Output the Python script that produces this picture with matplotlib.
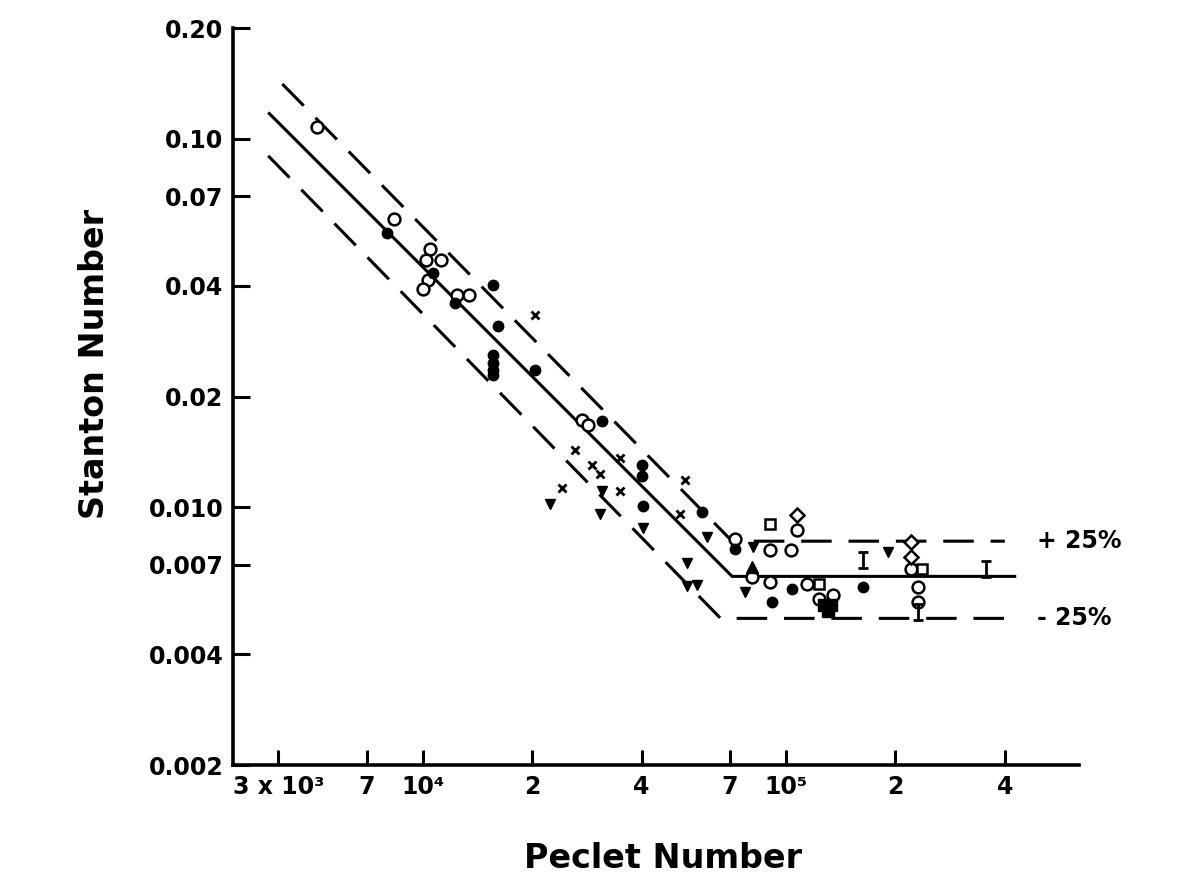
import numpy as np
import matplotlib
matplotlib.use("Agg")
import matplotlib.pyplot as plt
from matplotlib.path import Path

plt.rcParams['font.family'] = ['DejaVu Sans']
plt.rcParams['font.weight'] = 'bold'

# correlation lines (Peclet, Stanton)
solid_pe = [3.75e3, 7.1e4, 4.3e5]
solid_st = [0.118, 0.0065, 0.0065]
upper_pe = [4.1e3, 7.1e4, 4.0e5]
upper_st = [0.141, 0.0081, 0.0081]
lower_pe = [3.75e3, 6.6e4, 4.35e5]
lower_st = [0.090, 0.0050, 0.0050]

# data
open_circ_pe = [5.1e3, 8.3e3, 1.045e4, 1.02e4, 1.12e4, 1.03e4, 1.0e4, 1.24e4, 1.34e4,
                2.74e4, 2.85e4, 7.24e4, 8.05e4, 9.04e4, 9.04e4, 1.07e5, 1.03e5,
                1.14e5, 1.23e5, 1.35e5, 2.2e5, 2.31e5, 2.31e5]
open_circ_st = [0.108, 0.0608, 0.0504, 0.0468, 0.0468, 0.0413, 0.0391, 0.0376, 0.0376,
                0.0173, 0.0167, 0.0082, 0.00647, 0.00765, 0.00627, 0.00867, 0.00765,
                0.00619, 0.00564, 0.00578, 0.0068, 0.00608, 0.00554]

fill_circ_pe = [7.96e3, 1.065e4, 1.225e4, 1.56e4, 1.61e4, 1.56e4, 1.56e4, 1.56e4, 1.56e4,
                2.035e4, 3.11e4, 4.01e4, 4.01e4, 4.04e4, 5.87e4, 7.24e4, 9.15e4,
                1.04e5, 1.63e5]
fill_circ_st = [0.0554, 0.0432, 0.0358, 0.0401, 0.0310, 0.0259, 0.0247, 0.0236, 0.0229,
                0.0236, 0.0172, 0.0130, 0.0122, 0.0101, 0.0097, 0.0077, 0.00554,
                0.0060, 0.0061]

tri_down_pe = [2.24e4, 3.07e4, 3.11e4, 4.04e4, 5.34e4, 5.34e4, 5.69e4, 6.06e4, 8.11e4,
               1.91e5, 7.71e4]
tri_down_st = [0.0102, 0.00957, 0.0111, 0.00877, 0.00706, 0.00612, 0.00616, 0.0083, 0.0078,
               0.00756, 0.00589]

cross_pe = [2.035e4, 2.62e4, 2.92e4, 3.07e4, 2.415e4, 3.49e4, 3.49e4, 5.27e4, 5.1e4]
cross_st = [0.0332, 0.01435, 0.01307, 0.01236, 0.01132, 0.0111, 0.01365, 0.0119, 0.00957]

square_pe = [9.04e4, 1.23e5, 2.37e5]
square_st = [0.0090, 0.00619, 0.0068]

fill_square_pe = [1.27e5, 1.33e5, 1.3e5]
fill_square_st = [0.00545, 0.00545, 0.00525]

diamond_pe = [1.07e5, 2.2e5, 2.2e5]
diamond_st = [0.00951, 0.00804, 0.00733]

ibeam_pe = [1.63e5, 3.56e5, 2.31e5]
ibeam_st = [0.0072, 0.0068, 0.0052]

tri_up_pe = [8.05e4]
tri_up_st = [0.0069]

xticks = [4e3, 7e3, 1e4, 2e4, 4e4, 7e4, 1e5, 2e5, 4e5]
xticklabels = ['3 x 10³', '7', '10⁴', '2', '4', '7', '10⁵', '2', '4']
yticks = [0.002, 0.004, 0.007, 0.010, 0.02, 0.04, 0.07, 0.10, 0.20]
yticklabels = ['0.002', '0.004', '0.007', '0.010', '0.02', '0.04', '0.07', '0.10', '0.20']

ibeam = Path([(-0.6, 1), (0.6, 1), (0, 1), (0, -1), (-0.6, -1), (0.6, -1)],
             [Path.MOVETO, Path.LINETO, Path.MOVETO, Path.LINETO, Path.MOVETO, Path.LINETO])

fig = plt.figure(figsize=(11.84, 8.76), dpi=100)
ax = fig.add_axes([0.1968, 0.1267, 0.7145, 0.8413])
ax.set_xscale('log')
ax.set_yscale('log')
ax.set_xlim(3.0e3, 6.4e5)
ax.set_ylim(0.002, 0.20)

lw = 2.2
ax.plot(solid_pe, solid_st, color='black', lw=lw, solid_capstyle='butt', zorder=2)
ax.plot(upper_pe, upper_st, color='black', lw=lw, dashes=(10, 5.5), dash_capstyle='butt', zorder=2)
ax.plot(lower_pe, lower_st, color='black', lw=lw, dashes=(10, 5.5), dash_capstyle='butt', zorder=2)

ax.plot(open_circ_pe, open_circ_st, 'o', ms=8.5, mfc='white', mec='black', mew=1.8, zorder=3)
ax.plot(fill_circ_pe, fill_circ_st, 'o', ms=7.5, color='black', zorder=3)
ax.plot(tri_down_pe, tri_down_st, 'v', ms=7, color='black', zorder=3)
ax.plot(cross_pe, cross_st, 'x', ms=5.5, mec='black', mew=2, zorder=3)
ax.plot(square_pe, square_st, 's', ms=7.5, mfc='white', mec='black', mew=1.8, zorder=3)
ax.plot(fill_square_pe, fill_square_st, 's', ms=8, color='black', zorder=3)
ax.plot(diamond_pe, diamond_st, 'D', ms=7, mfc='white', mec='black', mew=1.8, zorder=3)
ax.plot(ibeam_pe, ibeam_st, ls='none', marker=ibeam, ms=12, mec='black', mew=2, zorder=3)
ax.plot(tri_up_pe, tri_up_st, '^', ms=8, color='black', zorder=3)

ax.text(4.9e5, 0.0081, '+ 25%', fontsize=17, fontweight='bold', va='center', ha='left')
ax.text(4.9e5, 0.0050, '- 25%', fontsize=17, fontweight='bold', va='center', ha='left')

ax.set_xticks(xticks)
ax.set_xticklabels(xticklabels)
ax.set_yticks(yticks)
ax.set_yticklabels(yticklabels)
ax.minorticks_off()
ax.tick_params(axis='both', direction='in', width=2.2, labelsize=17, pad=7)
ax.tick_params(axis='x', length=11)
ax.tick_params(axis='y', length=12)
for lab in ax.get_xticklabels() + ax.get_yticklabels():
    lab.set_fontweight('bold')

for s in ['top', 'right']:
    ax.spines[s].set_visible(False)
for s in ['left', 'bottom']:
    ax.spines[s].set_linewidth(2.6)

fig.text(663 / 1184, 1 - 858 / 876, 'Peclet Number', fontsize=24, fontweight='bold',
         ha='center', va='center')
fig.text(95 / 1184, 1 - 364 / 876, 'Stanton Number', fontsize=24, fontweight='bold',
         ha='center', va='center', rotation=90)

fig.savefig('out.png', dpi=100, facecolor='white')
